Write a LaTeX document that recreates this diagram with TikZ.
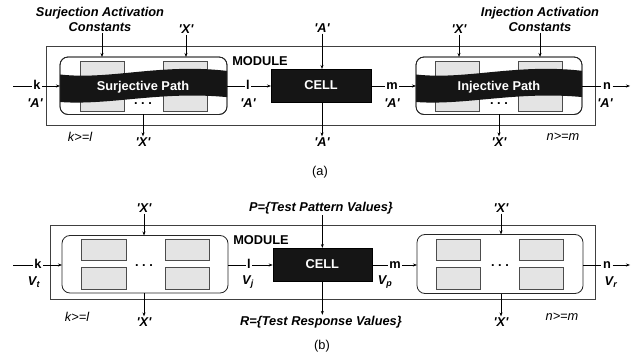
\documentclass[tikz,border=0pt]{standalone}
\usepackage{fontspec}
\setmainfont{Liberation Sans}
\usetikzlibrary{arrows.meta}
\definecolor{boxgray}{HTML}{E4E4E4}
\definecolor{bandblack}{HTML}{151515}
\begin{document}
\begin{tikzpicture}[x=1pt,y=-1pt,
  font=\fontsize{12.8}{15}\selectfont,
  lab/.style={font=\fontsize{12.8}{15}\selectfont\bfseries\itshape, inner sep=1pt},
  bl/.style={font=\fontsize{12.8}{15}\selectfont\bfseries, inner sep=1pt},
  sig/.style={font=\fontsize{12.8}{15}\selectfont\bfseries, inner sep=1.5pt, text height=6.6pt, text depth=0pt},
  itl/.style={font=\fontsize{12.8}{15}\selectfont\itshape, inner sep=1pt},
  arr/.style={-{Stealth[length=4pt,width=3pt]}, line width=0.6pt},
  ln/.style={line width=0.6pt},
  modbox/.style={draw=black!75, line width=0.9pt, inner sep=0pt, outer sep=0pt},
  pathbox/.style={draw=black!85, line width=0.8pt, rounded corners=8pt, inner sep=0pt, outer sep=0pt},
  graybox/.style={draw=black!70, fill=boxgray, line width=0.6pt, inner sep=0pt, outer sep=0pt},
  cellbox/.style={draw=black, fill=bandblack, inner sep=0pt, outer sep=0pt, text=white, font=\fontsize{12.8}{15}\selectfont\bfseries},
  band/.style={fill=bandblack}
]
\useasboundingbox (0,0) rectangle (631,355);

% ================= (a) =================
\node[modbox, minimum width=549pt, minimum height=79pt] (modA) at (320.5,86.2) {};
\node[pathbox, fill=white, minimum width=167pt, minimum height=57.5pt] (inA) at (143.5,85.75) {};
\node[pathbox, fill=white, minimum width=166pt, minimum height=57.5pt] (inA2) at (499,85.75) {};
\node[graybox, minimum width=44pt, minimum height=50pt] (gA1) at (102,86) {};
\node[graybox, minimum width=44pt, minimum height=50pt] (gA2) at (185,86) {};
\node[graybox, minimum width=44pt, minimum height=50pt] (gA3) at (457,86) {};
\node[graybox, minimum width=44pt, minimum height=50pt] (gA4) at (540,86) {};
\begin{scope}
  \clip[rounded corners=8pt] (inA.south west) rectangle (inA.north east);
  \fill[band] (50,73) .. controls (105,83) and (160,61) .. (235,72) -- (235,98) .. controls (160,89) and (105,108) .. (50,101) -- cycle;
\end{scope}
\begin{scope}
  \clip[rounded corners=8pt] (inA2.south west) rectangle (inA2.north east);
  \fill[band, xshift=356pt] (50,73) .. controls (105,83) and (160,61) .. (235,72) -- (235,98) .. controls (160,89) and (105,108) .. (50,101) -- cycle;
\end{scope}
\draw[pathbox] (inA.south west) rectangle (inA.north east);
\draw[pathbox] (inA2.south west) rectangle (inA2.north east);
\node[bl, text=white] (spath) at (143,87) {Surjective Path};
\node[bl, text=white] (ipath) at (499,87) {Injective Path};
\node[bl] (dotsA1) at (143,104) {.\ .\ .};
\node[bl] (dotsA2) at (499,104) {.\ .\ .};
\node[cellbox, minimum width=100pt, minimum height=33pt] (cellA) at (321,85.5) {CELL};
\node[bl] (modlabA) at (260,61) {MODULE};

\node[lab, align=center] (sac) at (100,19.5) {Surjection Activation\\Constants};
\node[lab, align=center] (iac) at (540,19.5) {Injection Activation\\Constants};
\node[lab] (xA1) at (186,29) {\textquotesingle X\textquotesingle};
\node[lab] (aA1) at (322,28) {\textquotesingle A\textquotesingle};
\node[lab] (xA2) at (459,29) {\textquotesingle X\textquotesingle};
\node[lab] (xA3) at (143,142) {\textquotesingle X\textquotesingle};
\node[lab] (aA2) at (322,142) {\textquotesingle A\textquotesingle};
\node[lab] (xA4) at (499,142) {\textquotesingle X\textquotesingle};
\draw[arr] (sac.south -| 102,0) -- (102,0 |- inA.north);
\draw[arr] (iac.south) -- (iac.south |- inA2.north);
\draw[arr] (xA1.south) -- (xA1.south |- inA.north);
\draw[arr] (aA1.south) -- (cellA.north -| aA1.south);
\draw[arr] (xA2.south) -- (xA2.south |- inA2.north);
\draw[arr] (inA.south -| xA3.north) -- (xA3.north);
\draw[arr] (cellA.south -| aA2.north) -- (aA2.north);
\draw[arr] (inA2.south -| xA4.north) -- (xA4.north);

\coordinate (a0) at (13,86);
\coordinate (a9) at (630,86);
\node[sig] (kA) at (37,86) {k};
\node[sig] (lA) at (248,86) {l};
\node[sig] (mA) at (392,86) {m};
\node[sig] (nA) at (607,86) {n};
\draw[ln] (a0) -- (kA.west);
\draw[arr] (kA.east) -- (kA.east -| inA.west);
\draw[ln] (inA.east |- lA) -- (lA.west);
\draw[arr] (lA.east) -- (lA.east -| cellA.west);
\draw[ln] (cellA.east |- mA) -- (mA.west);
\draw[arr] (mA.east) -- (mA.east -| inA2.west);
\draw[ln] (inA2.east |- nA) -- (nA.west);
\draw[arr] (nA.east) -- (a9);
\node[lab] (kAl) at (35,103) {\textquotesingle A\textquotesingle};
\node[lab] (lAl) at (248,103) {\textquotesingle A\textquotesingle};
\node[lab] (mAl) at (392,103) {\textquotesingle A\textquotesingle};
\node[lab] (nAl) at (605,103) {\textquotesingle A\textquotesingle};
\node[itl] (klA) at (80,137) {k>=l};
\node[itl] (nmA) at (563,137) {n>=m};
\node (capA) at (320,172) {(a)};

% ================= (b) =================
\node[modbox, minimum width=544.3pt, minimum height=74pt] (modB) at (322.85,262) {};
\node[pathbox, fill=white, minimum width=166pt, minimum height=57.5pt] (inB) at (145,264.25) {};
\node[pathbox, fill=white, minimum width=166pt, minimum height=59pt] (inB2) at (500,264) {};
\foreach \cx/\nm in {103.8/1, 187/2, 458.3/3, 541.5/4}{
  \node[graybox, minimum width=44.3pt, minimum height=21.5pt] (gBt\nm) at (\cx,250) {};
  \node[graybox, minimum width=44.3pt, minimum height=21.5pt] (gBb\nm) at (\cx,278.5) {};
}
\node[bl] (dotsB1) at (144,266) {.\ .\ .};
\node[bl] (dotsB2) at (500,266) {.\ .\ .};
\node[cellbox, minimum width=99.3pt, minimum height=33pt] (cellB) at (322.35,264.5) {CELL};
\node[bl] (modlabB) at (261,240) {MODULE};

\node[lab] (xB1) at (144,208) {\textquotesingle X\textquotesingle};
\node[lab] (pB) at (321,208) {P=\{Test Pattern Values\}};
\node[lab] (xB2) at (501,208) {\textquotesingle X\textquotesingle};
\node[lab] (xB3) at (144,322) {\textquotesingle X\textquotesingle};
\node[lab] (rB) at (321,322) {R=\{Test Response Values\}};
\node[lab] (xB4) at (501,322) {\textquotesingle X\textquotesingle};
\draw[arr] (xB1.south) -- (xB1.south |- inB.north);
\draw[arr] (pB.south -| cellB.north) -- (cellB.north);
\draw[arr] (xB2.south) -- (xB2.south |- inB2.north);
\draw[arr] (inB.south -| xB3.north) -- (xB3.north);
\draw[arr] (cellB.south) -- (cellB.south |- rB.north);
\draw[arr] (inB2.south -| xB4.north) -- (xB4.north);

\coordinate (b0) at (13,265);
\coordinate (b9) at (630,265);
\node[sig] (kB) at (38,265) {k};
\node[sig] (lB) at (249,265) {l};
\node[sig] (mB) at (395,265) {m};
\node[sig] (nB) at (607,265) {n};
\draw[ln] (b0) -- (kB.west);
\draw[arr] (kB.east) -- (kB.east -| inB.west);
\draw[ln] (inB.east |- lB) -- (lB.west);
\draw[arr] (lB.east) -- (lB.east -| cellB.west);
\draw[ln] (cellB.east |- mB) -- (mB.west);
\draw[arr] (mB.east) -- (mB.east -| inB2.west);
\draw[ln] (inB2.east |- nB) -- (nB.west);
\draw[arr] (nB.east) -- (b9);
\node[lab] (vt) at (34,282) {V\textsubscript{t}};
\node[lab] (vj) at (248,282) {V\textsubscript{j}};
\node[lab] (vp) at (385,282) {V\textsubscript{p}};
\node[lab] (vr) at (611,282) {V\textsubscript{r}};
\node[itl] (klB) at (77,317) {k>=l};
\node[itl] (nmB) at (562,317) {n>=m};
\node (capB) at (322,346) {(b)};
\end{tikzpicture}
\end{document}
